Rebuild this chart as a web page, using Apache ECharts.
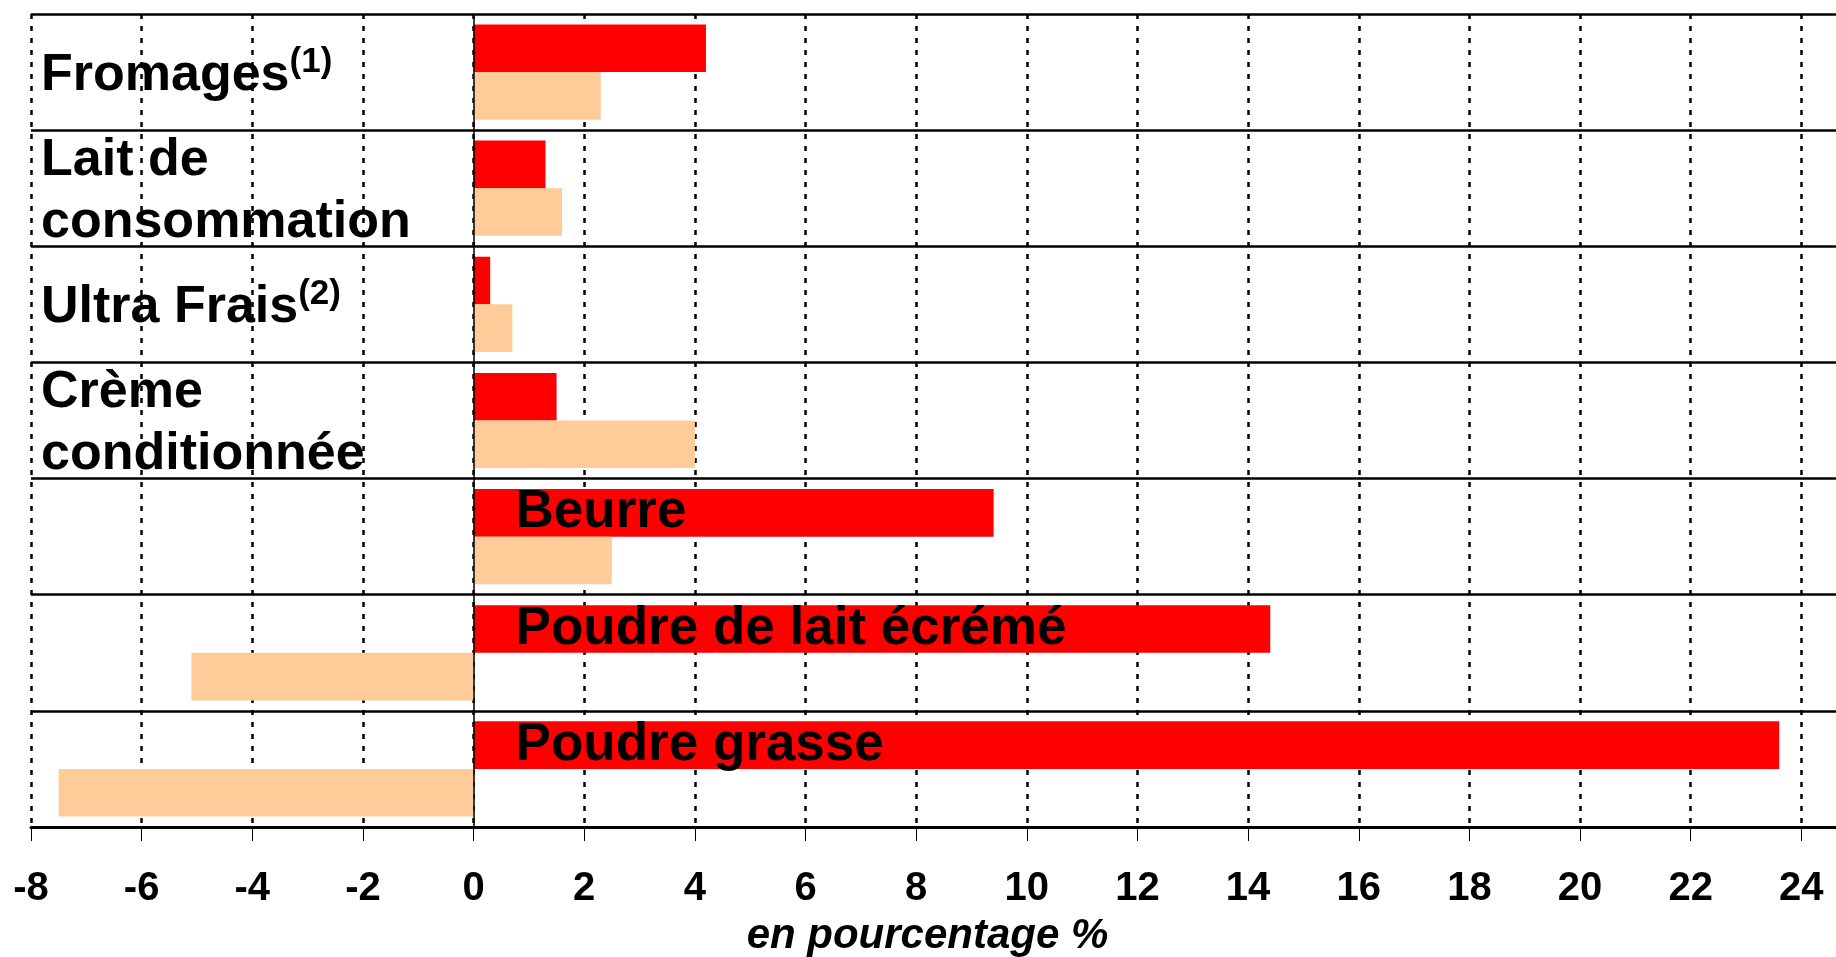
<!DOCTYPE html>
<html>
<head>
<meta charset="utf-8">
<title>Evolution des produits laitiers</title>
<script src="https://cdn.jsdelivr.net/npm/echarts@6/dist/echarts.min.js"></script>
<style>
  html, body { margin: 0; padding: 0; background: #fff; }
  #chart { width: 1836px; height: 957px; }
</style>
</head>
<body>
<div id="chart"></div>
<script>
// categories, top to bottom
const categories = ['Fromages', 'Lait de\nconsommation', 'Ultra Frais', 'Crème\nconditionnée',
                    'Beurre', 'Poudre de lait écrémé', 'Poudre grasse'];
// footnote markers after some names
const notes = ['(1)', '', '(2)', '', '', '', ''];
// names written inside the red bar instead of at the left
const labelInBar = ['Beurre', 'Poudre de lait écrémé', 'Poudre grasse'];

// en pourcentage %
const redValues = [4.2, 1.3, 0.3, 1.5, 9.4, 14.4, 23.6];
const peachValues = [2.3, 1.6, 0.7, 4.0, 2.5, -5.1, -7.5];

// 26 sits just past the right edge of the page, so only -8..24 is seen
const xTicks = { min: -8, max: 26, interval: 2 };

const font = 'Liberation Sans, Arial, sans-serif';

let chart = echarts.init(document.getElementById('chart'));

let option = {
    backgroundColor: '#fff',
    animation: false,
    grid: { left: 31, right: -76, top: 14, bottom: 130, outerBoundsMode: 'none' },
    xAxis: {
        type: 'value',
        min: xTicks.min,
        max: xTicks.max,
        interval: xTicks.interval,
        axisLine: { show: true, onZero: false, lineStyle: { color: '#000', width: 3 } },
        axisTick: { show: true, length: 14, lineStyle: { color: '#000', width: 1 } },
        splitLine: { show: true, lineStyle: { color: '#000', width: 2.5, type: [5, 7] } },
        axisLabel: { fontSize: 40, fontWeight: 'bold', color: '#000', fontFamily: font, margin: 42 },
        name: 'en pourcentage %',
        nameLocation: 'middle',
        nameGap: 88,
        nameTextStyle: {
            fontSize: 42, fontWeight: 'bold', fontStyle: 'italic', color: '#000',
            fontFamily: font, padding: [0, 88, 0, 0]
        }
    },
    yAxis: {
        type: 'category',
        data: categories,
        inverse: true,
        axisLine: { show: false },
        axisTick: { show: false },
        splitLine: { show: true, lineStyle: { color: '#000', width: 2.5 } },
        axisLabel: {
            inside: true,
            interval: 0,
            margin: 10,
            align: 'left',
            padding: [7, 0, 0, 0],
            formatter: function (value, index) {
                if (labelInBar.indexOf(value) >= 0) return '';
                return '{b|' + value + '}' + (notes[index] ? '{sup|' + notes[index] + '}' : '');
            },
            rich: {
                b: { fontSize: 52, fontWeight: 'bold', color: '#000', fontFamily: font, lineHeight: 62 },
                sup: { fontSize: 35, fontWeight: 'bold', color: '#000', fontFamily: font,
                       lineHeight: 36, verticalAlign: 'top' }
            }
        }
    },
    series: [
        {
            name: 'Série 1',
            type: 'bar',
            data: redValues,
            barGap: '0%',
            barCategoryGap: '18%',
            itemStyle: { color: '#FF0000' },
            label: {
                show: true,
                position: 'insideLeft',
                distance: 42,
                fontSize: 53,
                fontWeight: 'bold',
                color: '#000',
                fontFamily: font,
                formatter: function (p) {
                    return labelInBar.indexOf(p.name) >= 0 ? p.name : '';
                }
            },
            markLine: {
                silent: true,
                symbol: 'none',
                label: { show: false },
                lineStyle: { color: '#000', width: 1.5, type: 'solid' },
                data: [{ xAxis: 0 }]
            }
        },
        {
            name: 'Série 2',
            type: 'bar',
            data: peachValues,
            barGap: '0%',
            barCategoryGap: '18%',
            itemStyle: { color: '#FFCC99' }
        }
    ]
};
chart.setOption(option);
</script>
</body>
</html>
